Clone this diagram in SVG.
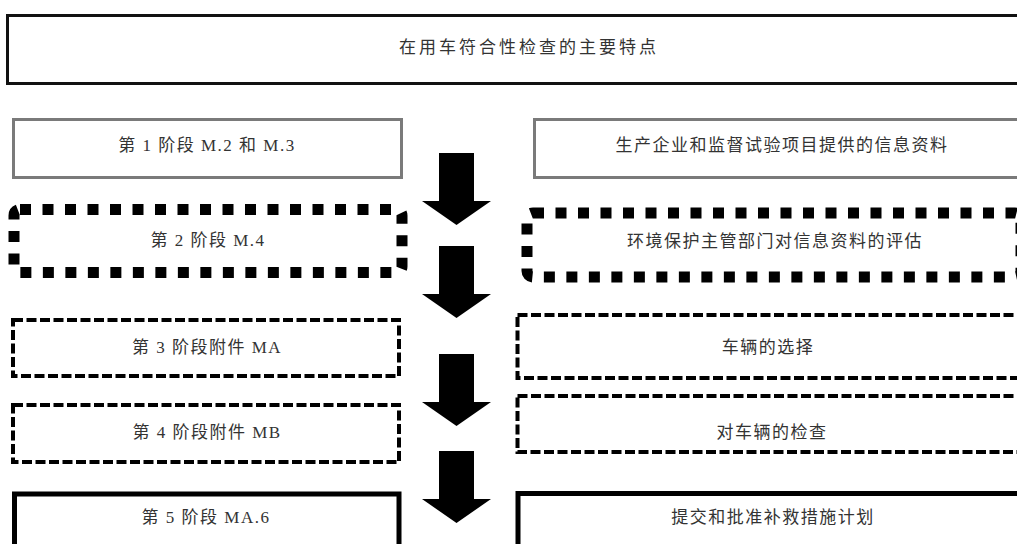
<svg xmlns="http://www.w3.org/2000/svg" width="1017" height="544" viewBox="0 0 1017 544">
<style>
.t{font-family:"Liberation Serif","Noto Sans CJK SC",serif;font-size:17px;fill:#333;text-anchor:middle;dominant-baseline:central;letter-spacing:1.5px}
.title{letter-spacing:3px}
.solid{fill:#fff;stroke:#111;stroke-width:3}
.gray{fill:#fff;stroke:#7a7a7a;stroke-width:3}
.dot{fill:#fff;stroke:#000;stroke-width:11;stroke-dasharray:11 11.5}
.dash{fill:#fff;stroke:#000;stroke-width:4;stroke-dasharray:10 3.5}
.thick{fill:#fff;stroke:#000;stroke-width:5}
.arrow{fill:#000}
</style>
<defs>
<path id="arr" d="M0,0 h35 v48 h17 l-34.5,24 l-34.5,-24 h17 z"/>
</defs>
<rect width="1017" height="544" fill="#fff"/>
<g id="title">
<rect class="solid" x="7.5" y="15.5" width="1045" height="68"/>
<text class="t title" x="529" y="47">在用车符合性检查的主要特点</text>
</g>
<g id="stage1">
<rect class="gray" x="13.5" y="119.5" width="388" height="58"/>
<text class="t" x="207" y="145">第 1 阶段 M.2 和 M.3</text>
</g>
<g id="info1">
<rect class="gray" x="534.5" y="119.5" width="500" height="58"/>
<text class="t" x="782" y="145">生产企业和监督试验项目提供的信息资料</text>
</g>
<g id="stage2">
<rect class="dot" x="14" y="209.5" width="388" height="63" rx="6"/>
<text class="t" x="208" y="240">第 2 阶段 M.4</text>
</g>
<g id="info2">
<rect class="dot" x="527" y="213" width="494" height="64" rx="6"/>
<text class="t" x="775" y="241">环境保护主管部门对信息资料的评估</text>
</g>
<g id="stage3">
<rect class="dash" x="13" y="320" width="386" height="56"/>
<text class="t" x="207" y="347">第 3 阶段附件 MA</text>
</g>
<g id="info3">
<rect class="dash" x="517.5" y="315" width="510" height="63"/>
<text class="t" x="768" y="347">车辆的选择</text>
</g>
<g id="stage4">
<rect class="dash" x="13" y="405" width="386" height="57"/>
<text class="t" x="207" y="432">第 4 阶段附件 MB</text>
</g>
<g id="info4">
<rect class="dash" x="517.5" y="396" width="510" height="56"/>
<text class="t" x="772" y="432">对车辆的检查</text>
</g>
<g id="stage5">
<rect class="thick" x="14.5" y="494" width="384.5" height="70"/>
<text class="t" x="206" y="517">第 5 阶段 MA.6</text>
</g>
<g id="info5">
<rect class="thick" x="518" y="493.5" width="510" height="70"/>
<text class="t" x="773" y="517">提交和批准补救措施计划</text>
</g>
<g id="connectors">
<use href="#arr" class="arrow" x="439" y="153"/>
<use href="#arr" class="arrow" x="439" y="246"/>
<use href="#arr" class="arrow" x="439" y="354"/>
<use href="#arr" class="arrow" x="439" y="451"/>
</g>
</svg>
